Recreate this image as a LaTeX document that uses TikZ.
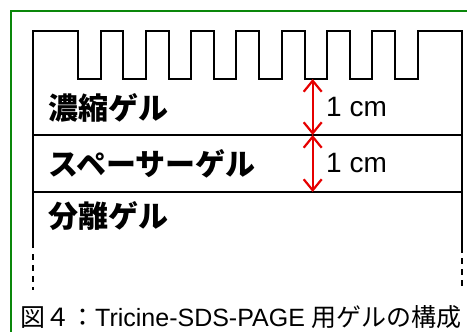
\documentclass[tikz,border=0pt]{standalone}
\usepackage{fontspec}
\setmainfont{Liberation Sans}
\newfontfamily\jp{Noto Sans CJK JP}
\usetikzlibrary{arrows.meta}
\definecolor{frame}{RGB}{10,135,10}
\definecolor{arrred}{RGB}{230,0,0}
\tikzset{
  frameline/.style={draw=frame, line width=2pt},
  gelline/.style={draw=black, line width=2pt},
  gelend/.style={draw=black, line width=2pt, dash pattern=on 6pt off 5pt},
  dim/.style={draw=arrred, line width=2.2pt, {Straight Barb[length=11pt,width=18pt]}-{Straight Barb[length=11pt,width=18pt]}},
  layerlabel/.style={anchor=west, inner sep=0pt, font=\jp\bfseries\fontsize{30}{34}\selectfont},
  cmlabel/.style={anchor=west, inner sep=0pt, font=\fontsize{28}{32}\selectfont},
  caption/.style={anchor=west, inner sep=0pt, font=\fontsize{25}{28}\selectfont}
}
\begin{document}
\begin{tikzpicture}[x=1pt,y=-1pt]
\useasboundingbox (0,0) rectangle (467,332);
% green frame (only top and left visible)
\draw[frameline] (467,11) -- (11,11) -- (11,332);
% gel outline with comb
\draw[gelline] (33,248) -- (33,30.5) -- (78,30.5)
  \foreach \i in {0,...,7} {
    -- ({78+45.3*\i},79) -- ({100.5+45.3*\i},79) -- ({100.5+45.3*\i},30.5)
    -- ({123.3+45.3*\i},30.5)
  }
  -- (462,30.5) -- (462,253);
\draw[gelend] (33,254) -- (33,290);
\draw[gelend] (462,258) -- (462,290);
% layer boundaries
\draw[gelline] (33,135) -- (462,135);
\draw[gelline] (33,192) -- (462,192);
% dimension coordinates
\coordinate (c1) at (312.7,79);
\coordinate (c2) at (312.7,135);
\coordinate (c3) at (312.7,192);
\draw[dim] (c1) -- (c2);
\draw[dim] (c2) -- (c3);
\node[cmlabel] (cm1) at (326,107) {1 cm};
\node[cmlabel] (cm2) at (326,163) {1 cm};
% layer labels
\node[layerlabel] (l1) at (48,108) {濃縮ゲル};
\node[layerlabel] (l2) at (48,164) {スペーサーゲル};
\node[layerlabel] (l3) at (48,216) {分離ゲル};
% caption
\node[caption] (cap) at (20,317) {{\jp 図４：}Tricine-SDS-PAGE {\jp 用ゲルの構成}};
\end{tikzpicture}
\end{document}
